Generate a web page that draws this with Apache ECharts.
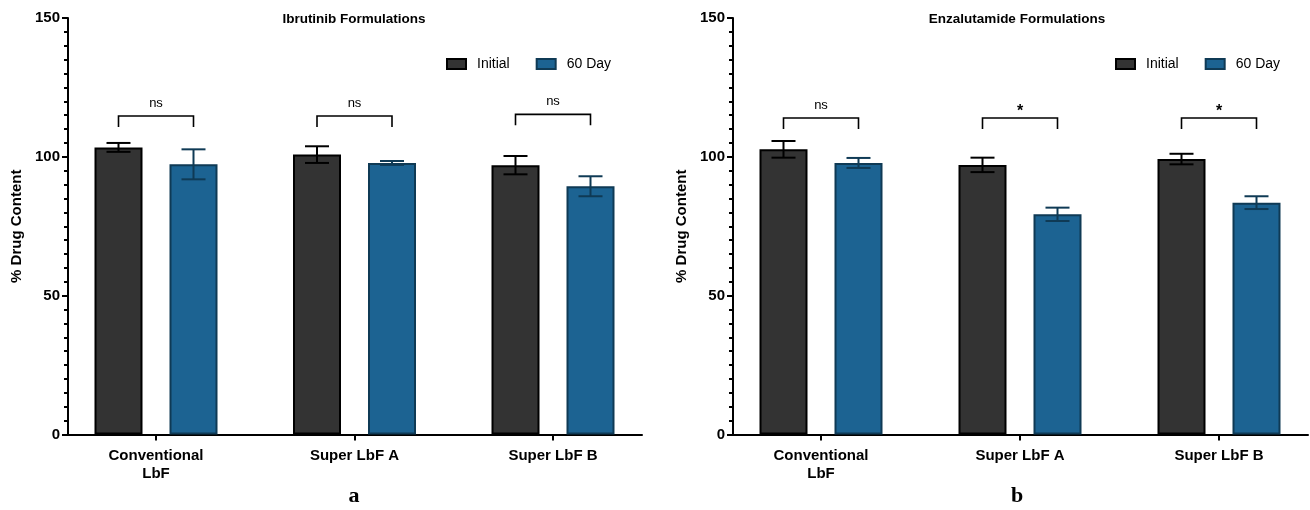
<!DOCTYPE html>
<html>
<head>
<meta charset="utf-8">
<script src="https://cdn.jsdelivr.net/npm/echarts@6/dist/echarts.min.js"></script>
<style>html,body{margin:0;padding:0;background:#fff;overflow:hidden}#c{width:1330px;height:510px}</style>
</head>
<body>
<div id="c"></div>
<script>
// ---------- data ----------
var categories = ['Conventional\nLbF', 'Super LbF A', 'Super LbF B'];
var seriesNames = ['Initial', '60 Day'];
var yTicks = [0, 50, 100, 150];

var ibrInitial = [103.4, 100.8, 97.0];
var ibrInitialErr = [1.6, 3.0, 3.3];
var ibr60 = [97.3, 97.8, 89.4];
var ibr60Err = [5.4, 0.7, 3.6];
var ibrSig = ['ns', 'ns', 'ns'];
var ibrBracket = [114.7, 114.7, 115.3];

var enzInitial = [102.7, 97.1, 99.2];
var enzInitialErr = [3.0, 2.6, 1.9];
var enz60 = [97.8, 79.3, 83.5];
var enz60Err = [1.8, 2.4, 2.3];
var enzSig = ['ns', '*', '*'];
var enzBracket = [114.0, 114.0, 114.0];

// ---------- style ----------
var FONT = 'Liberation Sans, Arial, Helvetica, sans-serif';
var DARK = '#333333', DARK_BORDER = '#000000';
var BLUE = '#1c6392', BLUE_BORDER = '#0f3a55';
var BAR_W = 48, BAR_GAP = 27, CAP = 24;
var OFF = (BAR_W + BAR_GAP) / 2;

var chart = echarts.init(document.getElementById('c'));

function errSeries(name, vals, errs, xi, yi, sign, color) {
  return {
    type: 'custom', name: name + ' err', xAxisIndex: xi, yAxisIndex: yi, z: 5,
    data: vals.map(function (v, i) { return [i, v, errs[i]]; }),
    renderItem: function (params, api) {
      var i = api.value(0), v = api.value(1), e = api.value(2);
      var top = api.coord([i, v + e]), bot = api.coord([i, v - e]);
      var x = top[0] + sign * OFF;
      var st = { stroke: color, lineWidth: 2 };
      return { type: 'group', children: [
        { type: 'line', shape: { x1: x, y1: top[1], x2: x, y2: bot[1] }, style: st },
        { type: 'line', shape: { x1: x - CAP / 2, y1: top[1], x2: x + CAP / 2, y2: top[1] }, style: st },
        { type: 'line', shape: { x1: x - CAP / 2, y1: bot[1], x2: x + CAP / 2, y2: bot[1] }, style: st }
      ]};
    }
  };
}

function bracketSeries(heights, labels, xi, yi) {
  return {
    type: 'custom', xAxisIndex: xi, yAxisIndex: yi, z: 6, silent: true,
    data: heights.map(function (h, i) { return [i, h, labels[i]]; }),
    renderItem: function (params, api) {
      var i = api.value(0), h = api.value(1);
      var lab = labels[i];
      var p = api.coord([i, h]);
      var x1 = p[0] - OFF, x2 = p[0] + OFF, y = p[1];
      var isStar = lab === '*';
      return { type: 'group', children: [
        { type: 'polyline', shape: { points: [[x1, y + 11], [x1, y], [x2, y], [x2, y + 11]] },
          style: { stroke: '#000', lineWidth: 1.6, fill: null } },
        { type: 'text', style: { text: lab, x: p[0], y: isStar ? y - 6 : y - 13,
          align: 'center', verticalAlign: 'middle',
          font: (isStar ? 'bold 16px ' : '13px ') + FONT, fill: '#000' } }
      ]};
    }
  };
}

function barSeries(name, vals, xi, yi, fill, border) {
  return {
    type: 'bar', name: name, xAxisIndex: xi, yAxisIndex: yi, data: vals,
    barWidth: BAR_W, barGap: (BAR_GAP / BAR_W * 100) + '%',
    itemStyle: { color: fill, borderColor: border, borderWidth: 2 }
  };
}

function catAxis(gi) {
  return {
    type: 'category', gridIndex: gi, data: categories,
    axisLine: { show: false },
    axisTick: { show: true, alignWithLabel: true, length: 6, lineStyle: { color: '#000', width: 2 } },
    axisLabel: { color: '#000', fontWeight: 'bold', fontSize: 15, fontFamily: FONT, margin: 12, lineHeight: 18, interval: 0 }
  };
}
function lineXAxis(gi) {
  return {
    type: 'value', gridIndex: gi, min: 0, max: 1,
    axisLine: { show: true, lineStyle: { color: '#000', width: 2 } },
    axisTick: { show: false }, axisLabel: { show: false }, splitLine: { show: false }
  };
}
function hiddenY(gi) {
  return { type: 'value', gridIndex: gi, min: yTicks[0], max: yTicks[yTicks.length - 1], interval: 50, show: false };
}
function shownY(gi) {
  return {
    type: 'value', gridIndex: gi, min: yTicks[0], max: yTicks[yTicks.length - 1], interval: yTicks[1] - yTicks[0],
    name: '% Drug Content', nameLocation: 'middle', nameGap: 44, nameRotate: 90,
    nameTextStyle: { color: '#000', fontWeight: 'bold', fontSize: 15, fontFamily: FONT },
    axisLine: { show: true, lineStyle: { color: '#000', width: 2 } },
    axisTick: { show: true, length: 6, lineStyle: { color: '#000', width: 2 } },
    minorTick: { show: true, splitNumber: 10, length: 4, lineStyle: { color: '#000', width: 2 } },
    axisLabel: { color: '#000', fontWeight: 'bold', fontSize: 15, fontFamily: FONT, margin: 8 },
    splitLine: { show: false }
  };
}

var TOP = 18, HEIGHT = 416.5;

function legendAt(x) {
  return { data: seriesNames, left: x, top: 57, padding: 0, icon: 'rect', itemWidth: 19, itemHeight: 10, itemGap: 26,
    textStyle: { fontSize: 14, color: '#000', fontFamily: FONT, padding: [0, 0, 0, 6] } };
}

chart.setOption({
  animation: false,
  backgroundColor: '#fff',
  title: [
    { text: 'Ibrutinib Formulations', left: 354, top: 12, textAlign: 'center', padding: 0,
      textStyle: { fontSize: 13.5, fontWeight: 'bold', color: '#000', fontFamily: FONT } },
    { text: 'Enzalutamide Formulations', left: 1017, top: 12, textAlign: 'center', padding: 0,
      textStyle: { fontSize: 13.5, fontWeight: 'bold', color: '#000', fontFamily: FONT } },
    { text: 'a', left: 354, top: 485, textAlign: 'center', padding: 0,
      textStyle: { fontSize: 22, fontWeight: 'bold', color: '#000', fontFamily: 'Liberation Serif, Times New Roman, serif' } },
    { text: 'b', left: 1017, top: 485, textAlign: 'center', padding: 0,
      textStyle: { fontSize: 22, fontWeight: 'bold', color: '#000', fontFamily: 'Liberation Serif, Times New Roman, serif' } }
  ],
  legend: [legendAt(446), legendAt(1115)],
  grid: [
    { left: 56.75, top: TOP, width: 595.5, height: HEIGHT },
    { left: 68, top: TOP, width: 574, height: HEIGHT },
    { left: 721.5, top: TOP, width: 597, height: HEIGHT },
    { left: 733, top: TOP, width: 575, height: HEIGHT }
  ],
  xAxis: [catAxis(0), lineXAxis(1), catAxis(2), lineXAxis(3)],
  yAxis: [hiddenY(0), shownY(1), hiddenY(2), shownY(3)],
  series: [
    barSeries(seriesNames[0], ibrInitial, 0, 0, DARK, DARK_BORDER),
    barSeries(seriesNames[1], ibr60, 0, 0, BLUE, BLUE_BORDER),
    errSeries('ibrI', ibrInitial, ibrInitialErr, 0, 0, -1, '#000'),
    errSeries('ibr60', ibr60, ibr60Err, 0, 0, 1, BLUE_BORDER),
    bracketSeries(ibrBracket, ibrSig, 0, 0),
    barSeries(seriesNames[0], enzInitial, 2, 2, DARK, DARK_BORDER),
    barSeries(seriesNames[1], enz60, 2, 2, BLUE, BLUE_BORDER),
    errSeries('enzI', enzInitial, enzInitialErr, 2, 2, -1, '#000'),
    errSeries('enz60', enz60, enz60Err, 2, 2, 1, BLUE_BORDER),
    bracketSeries(enzBracket, enzSig, 2, 2)
  ]
});
</script>
</body>
</html>
